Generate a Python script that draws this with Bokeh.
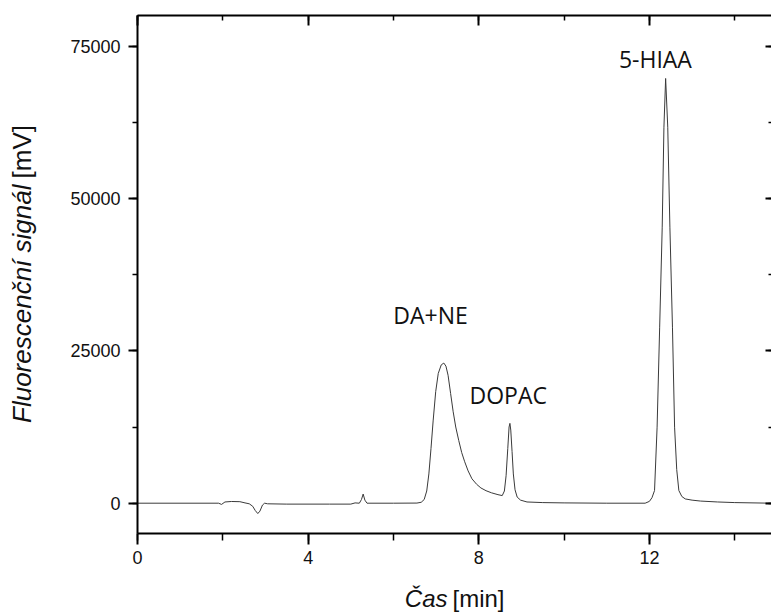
import math
from bokeh.plotting import figure
from bokeh.models import Range1d, LinearAxis, SingleIntervalTicker, Label
from bokeh.embed import file_html
from bokeh.resources import INLINE

# ---- data ----
time_min = [0.00, 1.90, 1.97, 2.05, 2.20, 2.40, 2.52, 2.62, 2.70, 2.76, 2.82, 2.87, 2.93, 2.98,
            3.05, 3.50, 4.50, 5.00, 5.10, 5.20, 5.25, 5.29, 5.33, 5.38, 6.00, 6.55, 6.65,
            6.72, 6.78, 6.83, 6.88, 6.93, 6.99, 7.05, 7.12, 7.18, 7.23, 7.28, 7.34, 7.40,
            7.46, 7.53, 7.60, 7.67, 7.75, 7.84, 7.95, 8.05, 8.17, 8.30, 8.45, 8.55, 8.60,
            8.64, 8.68, 8.71, 8.73, 8.75, 8.78, 8.81, 8.85, 8.90, 8.98, 9.13, 9.50, 10.00,
            11.00, 11.90, 12.00, 12.06, 12.12, 12.18, 12.24, 12.30, 12.34, 12.38, 12.43,
            12.48, 12.54, 12.59, 12.64, 12.69, 12.76, 12.84, 13.00, 13.20, 13.60, 14.00, 14.86]
signal_mv = [0, 0, -200, 200, 280, 250, 50, -100, -500, -1200, -1700, -1300, -300, 0,
             -100, -150, -150, -150, 50, 0, 600, 1500, 500, 0, 0, 20, 150,
             600, 2000, 4800, 9000, 13500, 18300, 21300, 22700, 23000, 22500, 21000, 18000, 15000,
             12500, 10300, 8300, 6800, 5300, 4000, 3100, 2500, 2050, 1700, 1400, 1250, 2000,
             4500, 9000, 12500, 13100, 12000, 8500, 4800, 2200, 1000, 500, 200, 100, 50,
             0, 0, 300, 900, 2080, 12480, 28890, 45300, 61700, 69700, 61700,
             45300, 28890, 12480, 5500, 2080, 1100, 700, 500, 350, 200, 100, 0]
peak_names = ["DA+NE", "DOPAC", "5-HIAA"]
x_tick_values = [0, 4, 8, 12]
y_tick_values = [0, 25000, 50000, 75000]

# axis frame limits (data units)
X_MIN, X_MAX = 0.0, 14.8617
Y_MIN, Y_MAX = -5000.0, 80000.0

TICK_FONT = "Liberation Sans"

# the frame covers the whole canvas; axes are drawn at fixed locations
p = figure(width=771, height=615,
           x_range=Range1d(-3.2114, 14.8617), y_range=Range1d(-18430, 82498),
           x_axis_type=None, y_axis_type=None,
           output_backend="svg", toolbar_location=None,
           min_border=0, min_border_left=0, min_border_right=0,
           min_border_top=0, min_border_bottom=0)
p.outline_line_color = None
p.background_fill_color = "white"
p.border_fill_color = "white"

xt = SingleIntervalTicker(interval=4, num_minor_ticks=2)
yt = SingleIntervalTicker(interval=25000, num_minor_ticks=2)


def make_axis(ticker, loc, bounds, tin, tout, mtin, mtout, labels=None):
    ax = LinearAxis(ticker=ticker, fixed_location=loc, bounds=bounds)
    ax.axis_line_color = "black"
    ax.axis_line_width = 2
    ax.major_tick_line_color = "black"
    ax.major_tick_line_width = 2
    ax.minor_tick_line_color = "black"
    ax.minor_tick_line_width = 1.5
    ax.major_tick_in = tin
    ax.major_tick_out = tout
    ax.minor_tick_in = mtin
    ax.minor_tick_out = mtout
    ax.major_label_text_font = TICK_FONT
    ax.major_label_text_font_size = "18px"
    ax.major_label_text_color = "#111111"
    if labels is not None:
        ax.major_label_overrides = {v: "" for v in labels}
    return ax


bottom = make_axis(xt, Y_MIN, (X_MIN, X_MAX), 0, 11, 0, 7)
bottom.major_label_standoff = 6
p.add_layout(bottom, "below")

left = make_axis(yt, X_MIN, (Y_MIN, Y_MAX), 0, 9, 0, 5)
left.major_label_standoff = 8
p.add_layout(left, "left")

top = make_axis(xt, Y_MAX, (X_MIN, X_MAX), 10, 0, 5, 0, labels=x_tick_values)
p.add_layout(top, "above")

right = make_axis(yt, X_MAX, (Y_MIN, Y_MAX), 6, 0, 3, 0, labels=y_tick_values)
right.axis_line_color = None
p.add_layout(right, "right")

p.line(time_min, signal_mv, line_color="#3a3a3a", line_width=1)

# peak labels
peak_pos = [(6.87, 30900), (8.69, 17800), (12.14, 72900)]
for name, (lx, ly) in zip(peak_names, peak_pos):
    p.add_layout(Label(x=lx, y=ly, text=name, text_align="center",
                       text_baseline="alphabetic", text_font="Open Sans",
                       text_font_size="23px", text_color="#111111"))

# axis titles (italic part + normal part)
p.add_layout(Label(x=7.267, y=-15640, text="Čas", text_align="right",
                   text_baseline="middle", text_font=TICK_FONT,
                   text_font_style="italic", text_font_size="24px", text_color="#111111"))
p.add_layout(Label(x=7.384, y=-15640, text="[min]", text_align="left",
                   text_baseline="middle", text_font=TICK_FONT,
                   text_font_size="24px", text_color="#111111"))
p.add_layout(Label(x=-2.696, y=52300, text="Fluorescenční signál", text_align="right",
                   text_baseline="middle", angle=math.pi / 2, text_font=TICK_FONT,
                   text_font_style="italic", text_font_size="26px", text_color="#111111"))
p.add_layout(Label(x=-2.696, y=53290, text="[mV]", text_align="left",
                   text_baseline="middle", angle=math.pi / 2, text_font=TICK_FONT,
                   text_font_size="26px", text_color="#111111"))

open("out.html", "w").write(file_html(p, INLINE))
